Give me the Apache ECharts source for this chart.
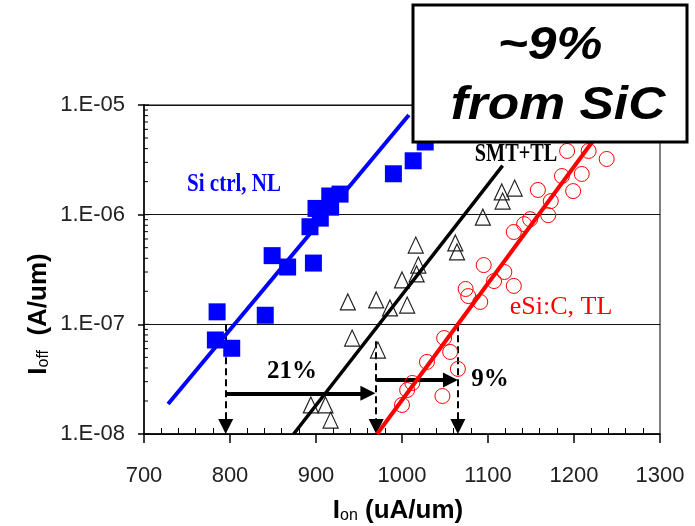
<!DOCTYPE html>
<html>
<head>
<meta charset="utf-8">
<script src="https://cdn.jsdelivr.net/npm/echarts@6/dist/echarts.min.js"></script>
<style>
  html, body { margin: 0; padding: 0; background: #fff; }
  #chart { width: 695px; height: 526px; }
</style>
</head>
<body>
<div id="chart"></div>
<script>
// Ion–Ioff universal curves for three process splits.

// Si control, no liner (blue squares)
const siCtrlIon  = [785, 783, 802, 841, 849, 867, 897, 893, 900, 916, 917, 928, 905, 990, 1013, 1027];
const siCtrlIoff = [1.30e-7, 7.2e-8, 6.05e-8, 1.21e-7, 4.23e-7, 3.33e-7, 3.62e-7, 7.76e-7,
                    1.14e-6, 1.48e-6, 1.17e-6, 1.54e-6, 9.3e-7, 2.36e-6, 3.1e-6, 4.6e-6];

// SMT + tensile liner (open triangles)
const smtIon  = [1116, 1131, 1117, 1094, 1062, 1064, 1016, 1019, 1017, 1000, 1006, 986, 970, 937, 942, 972, 894, 911, 917];
const smtIoff = [1.61e-6, 1.75e-6, 1.33e-6, 9.5e-7, 5.52e-7, 4.57e-7, 5.28e-7, 3.47e-7, 2.88e-7, 2.54e-7,
                 1.50e-7, 1.41e-7, 1.67e-7, 1.60e-7, 7.5e-8, 5.83e-8, 1.84e-8, 1.84e-8, 1.34e-8];

// embedded Si:C + tensile liner (open circles)
const esicIon  = [1192, 1217, 1238, 1186, 1209, 1158, 1199, 1173, 1149, 1170, 1130, 1142, 1095, 1119,
                  1130, 1074, 1077, 1107, 1091, 1049, 1056, 1029, 1065, 1047, 1006, 1000, 1012];
const esicIoff = [3.81e-6, 3.81e-6, 3.22e-6, 2.25e-6, 2.35e-6, 1.68e-6, 1.64e-6, 1.33e-6, 9.1e-7, 9.9e-7,
                  6.95e-7, 8.2e-7, 3.47e-7, 3.0e-7, 2.24e-7, 2.10e-7, 1.81e-7, 2.48e-7, 1.60e-7, 7.5e-8,
                  5.6e-8, 4.54e-8, 3.92e-8, 2.22e-8, 2.52e-8, 1.84e-8, 2.92e-8];

// Fitted trend lines (end points)
const siCtrlFitIon = [728, 1008],  siCtrlFitIoff = [1.88e-8, 8.1e-6];
const smtFitIon    = [874, 1117],  smtFitIoff    = [1.0e-8, 2.8e-6];
const esicFitIon   = [971, 1240],  esicFitIoff   = [1.0e-8, 7.3e-6];

// Drive-current comparison guides
const guideIon    = [795, 970, 1065];          // Ion read at the target Ioff
const guideTopIoff = [1e-7, 7e-8, 1e-7];
const guideBottomIoff = 1.17e-8;
const gainArrowY  = [2.35e-8, 3.1e-8];         // heights of the gain arrows
const gainArrowEnd = [960.3, 1056.3];

// Axis ticks
const xTicks = [700, 800, 900, 1000, 1100, 1200, 1300];
const yDecades = [1e-8, 1e-7, 1e-6, 1e-5];

const pairs = (xs, ys) => xs.map((x, i) => [x, ys[i]]);

const yMinorTicks = [];
yDecades.slice(0, 3).forEach(d => {
  for (let m = 2; m <= 9; m++) yMinorTicks.push([xTicks[0], d * m, 0]);
});
yDecades.forEach(d => yMinorTicks.push([xTicks[0], d, 1]));

const chart = echarts.init(document.getElementById('chart'), null, { renderer: 'canvas' });

const FONT = 'Arial, "Liberation Sans", sans-serif';
const SERIF = '"Times New Roman", "Liberation Serif", serif';

const option = {
  animation: false,
  backgroundColor: '#fff',
  grid: { left: 144, right: 35, top: 105, bottom: 92, show: true, borderColor: '#000', borderWidth: 1 },
  xAxis: {
    type: 'value', min: xTicks[0], max: xTicks[xTicks.length - 1], interval: 100,
    axisLine: { show: true, onZero: false, lineStyle: { color: '#000', width: 1.5 } },
    axisTick: { show: true, length: 9, lineStyle: { color: '#000', width: 1.5 } },
    minorTick: { show: true, splitNumber: 5, length: -6, lineStyle: { color: '#000', width: 1 } },
    splitLine: { show: false },
    axisLabel: { margin: 31, fontSize: 22, color: '#222', fontFamily: FONT, formatter: v => String(v) }
  },
  yAxis: {
    type: 'log', logBase: 10, min: yDecades[0], max: yDecades[3],
    axisLine: { show: true, lineStyle: { color: '#000', width: 1.5 } },
    axisTick: { show: true, length: 6, lineStyle: { color: '#000', width: 1.5 } },
    minorTick: { show: false },
    splitLine: { show: true, lineStyle: { color: '#111', width: 1 } },
    axisLabel: {
      margin: 19, fontSize: 22, color: '#222', fontFamily: FONT,
      formatter: v => {
        const e = -Math.round(Math.log10(v));
        return '1.E-' + (e < 10 ? '0' : '') + e;
      }
    }
  },
  series: [
    {
      type: 'custom', name: 'yMinor', silent: true, clip: false,
      data: yMinorTicks,
      renderItem: (params, api) => {
        const p = api.coord([api.value(0), api.value(1)]);
        const len = api.value(2) ? 5 : 4;
        return { type: 'line', shape: { x1: p[0], y1: p[1], x2: p[0] + len, y2: p[1] },
                 style: { stroke: '#000', lineWidth: 1 } };
      }
    },
    {
      type: 'scatter', name: 'Si ctrl, NL', data: pairs(siCtrlIon, siCtrlIoff),
      symbol: 'rect', symbolSize: 17, itemStyle: { color: '#0000ff', opacity: 1 }, silent: true
    },
    {
      type: 'scatter', name: 'SMT+TL', data: pairs(smtIon, smtIoff),
      symbol: 'triangle', symbolSize: [15, 16],
      itemStyle: { color: 'rgba(0,0,0,0)', borderColor: '#222', borderWidth: 1.2, opacity: 1 }, silent: true
    },
    {
      type: 'scatter', name: 'eSi:C, TL', data: pairs(esicIon, esicIoff),
      symbol: 'circle', symbolSize: 15,
      itemStyle: { color: 'rgba(0,0,0,0)', borderColor: '#ff0000', borderWidth: 1, opacity: 1 }, silent: true
    },
    {
      type: 'line', data: pairs(siCtrlFitIon, siCtrlFitIoff), showSymbol: false, silent: true,
      lineStyle: { color: '#0000ff', width: 4 }
    },
    {
      type: 'line', data: pairs(smtFitIon, smtFitIoff), showSymbol: false, silent: true,
      lineStyle: { color: '#000', width: 3.5 }
    },
    {
      type: 'line', data: pairs(esicFitIon, esicFitIoff), showSymbol: false, silent: true,
      lineStyle: { color: '#ff0000', width: 4 }
    },
    {
      type: 'lines', coordinateSystem: 'cartesian2d', silent: true,
      symbol: ['none', 'triangle'], symbolSize: 15,
      lineStyle: { color: '#000', width: 2, type: [7, 4], opacity: 1 },
      data: guideIon.map((x, i) => ({ coords: [[x, guideTopIoff[i]], [x, guideBottomIoff]] }))
    },
    {
      type: 'lines', coordinateSystem: 'cartesian2d', silent: true,
      symbol: ['none', 'triangle'], symbolSize: 15,
      lineStyle: { color: '#000', width: 4, opacity: 1 },
      data: gainArrowY.map((y, i) => ({ coords: [[guideIon[i], y], [gainArrowEnd[i], y]] }))
    }
  ],
  graphic: [
    { type: 'text', x: 234, y: 185, scaleX: 0.84, z: 50,
      style: { text: 'Si ctrl, NL', fill: '#0000ff', font: 'bold 25px ' + SERIF, align: 'center', verticalAlign: 'middle' } },
    { type: 'text', x: 516, y: 155, scaleX: 0.81, z: 50,
      style: { text: 'SMT+TL', fill: '#000', font: 'bold 25px ' + SERIF, align: 'center', verticalAlign: 'middle' } },
    { type: 'text', x: 561, y: 307, z: 50,
      style: { text: 'eSi:C, TL', fill: '#ff0000', font: '26px ' + SERIF, align: 'center', verticalAlign: 'middle' } },
    { type: 'text', x: 292, y: 372, z: 50,
      style: { text: '21%', fill: '#000', font: 'bold 25px ' + SERIF, align: 'center', verticalAlign: 'middle' } },
    { type: 'text', x: 490, y: 380, z: 50,
      style: { text: '9%', fill: '#000', font: 'bold 25px ' + SERIF, align: 'center', verticalAlign: 'middle' } },
    { type: 'rect', z: 100, shape: { x: 413, y: 5, width: 274, height: 137 },
      style: { fill: '#fff', stroke: '#000', lineWidth: 3 } },
    { type: 'text', z: 101, x: 550, y: 46, scaleX: 1.12,
      style: { text: '~9%', fill: '#000', font: 'italic bold 46px ' + FONT, align: 'center', verticalAlign: 'middle' } },
    { type: 'text', z: 101, x: 558, y: 106, scaleX: 1.12,
      style: { text: 'from SiC', fill: '#000', font: 'italic bold 46px ' + FONT, align: 'center', verticalAlign: 'middle' } },
    { type: 'text', z: 50, x: 398, y: 509,
      style: {
        text: '{b|I}{s|on}{b| (uA/um)}', align: 'center', verticalAlign: 'middle',
        rich: {
          b: { font: 'bold 26px ' + FONT, fill: '#000', lineHeight: 30, verticalAlign: 'bottom' },
          s: { font: '16px ' + FONT, fill: '#000', lineHeight: 17, verticalAlign: 'bottom' }
        }
      } },
    { type: 'text', z: 50, x: 37, y: 314, rotation: Math.PI / 2,
      style: {
        text: '{b|I}{s|off}{b|  (A/um)}', align: 'center', verticalAlign: 'middle',
        rich: {
          b: { font: 'bold 26px ' + FONT, fill: '#000', lineHeight: 30, verticalAlign: 'bottom' },
          s: { font: '16px ' + FONT, fill: '#000', lineHeight: 17, verticalAlign: 'bottom' }
        }
      } }
  ]
};

chart.setOption(option);
</script>
</body>
</html>
